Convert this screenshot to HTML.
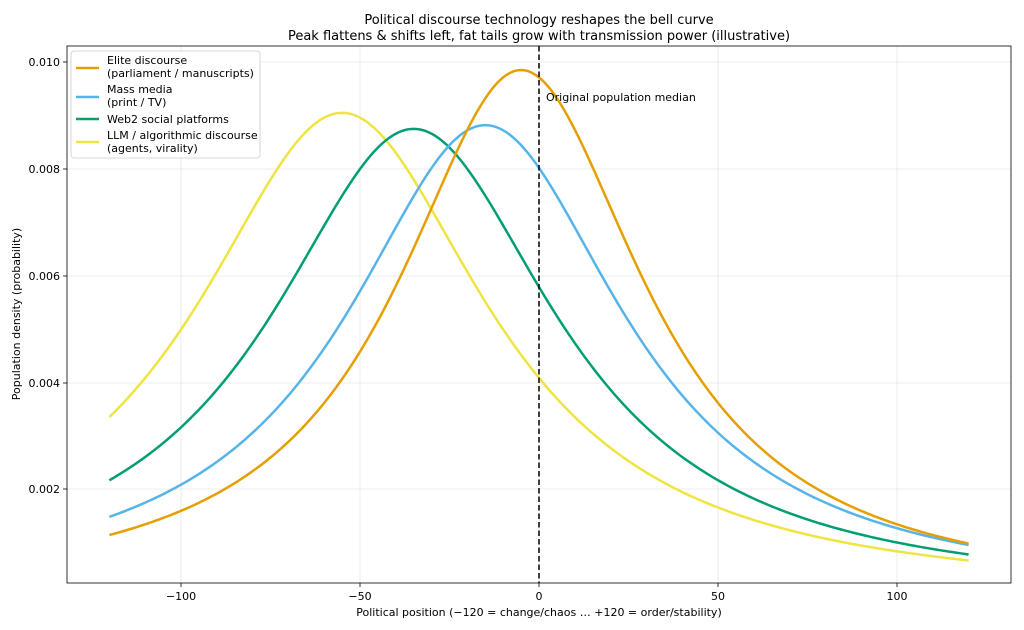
<!DOCTYPE html>
<html><head><meta charset="utf-8"><style>
body{margin:0;background:#fff}
svg{display:block;font-family:"DejaVu Sans","Liberation Sans",sans-serif}
</style></head><body>
<svg id="s" width="1024" height="630" viewBox="0 0 1024 630">
<rect width="1024" height="630" fill="#fff"/>
<g stroke="#e6e6e6" stroke-width="0.8">
<line x1="181" y1="46" x2="181" y2="583"/><line x1="360" y1="46" x2="360" y2="583"/><line x1="539" y1="46" x2="539" y2="583"/><line x1="718" y1="46" x2="718" y2="583"/><line x1="897" y1="46" x2="897" y2="583"/>
<line x1="67" y1="62" x2="1011" y2="62"/><line x1="67" y1="169" x2="1011" y2="169"/><line x1="67" y1="276" x2="1011" y2="276"/><line x1="67" y1="383" x2="1011" y2="383"/><line x1="67" y1="489" x2="1011" y2="489"/>
</g>
<g id="curves" fill="none" stroke-width="2.5"></g>
<line x1="539" y1="46" x2="539" y2="583" stroke="#000" stroke-width="1.5" stroke-dasharray="5.5,3"/>
<text x="546" y="101" font-size="11">Original population median</text>
<rect x="67" y="46" width="944" height="537" fill="none" stroke="#000" stroke-width="0.8"/>
<g stroke="#000" stroke-width="0.8">
<line x1="181" y1="583" x2="181" y2="587"/><line x1="360" y1="583" x2="360" y2="587"/><line x1="539" y1="583" x2="539" y2="587"/><line x1="718" y1="583" x2="718" y2="587"/><line x1="897" y1="583" x2="897" y2="587"/>
<line x1="63" y1="62" x2="67" y2="62"/><line x1="63" y1="169" x2="67" y2="169"/><line x1="63" y1="276" x2="67" y2="276"/><line x1="63" y1="383" x2="67" y2="383"/><line x1="63" y1="489" x2="67" y2="489"/>
</g>
<g font-size="11" text-anchor="middle">
<text x="181" y="600">−100</text><text x="360" y="600">−50</text><text x="539" y="600">0</text><text x="718" y="600">50</text><text x="897" y="600">100</text>
<text x="539" y="616">Political position (−120 = change/chaos … +120 = order/stability)</text>
</g>
<g font-size="11" text-anchor="end">
<text x="60" y="66">0.010</text><text x="60" y="173">0.008</text><text x="60" y="280">0.006</text><text x="60" y="387">0.004</text><text x="60" y="493">0.002</text>
</g>
<text transform="translate(20,314) rotate(-90)" font-size="11" text-anchor="middle">Population density (probability)</text>
<text x="539" y="24" font-size="13" text-anchor="middle">Political discourse technology reshapes the bell curve</text>
<text x="539" y="40" font-size="13" text-anchor="middle">Peak flattens &amp; shifts left, fat tails grow with transmission power (illustrative)</text>
<rect x="71" y="51" width="189" height="107" rx="3" fill="#fff" fill-opacity="0.85" stroke="#ccc" stroke-width="0.8"/>
<g stroke-width="2.5">
<line x1="76" y1="68" x2="99" y2="68" stroke="#E69F00"/>
<line x1="76" y1="97" x2="99" y2="97" stroke="#56B4E9"/>
<line x1="76" y1="119" x2="99" y2="119" stroke="#009E73"/>
<line x1="76" y1="142" x2="99" y2="142" stroke="#F0E442"/>
</g>
<g font-size="11">
<text x="107" y="64">Elite discourse</text><text x="107" y="77">(parliament / manuscripts)</text>
<text x="107" y="93">Mass media</text><text x="107" y="106">(print / TV)</text>
<text x="107" y="123">Web2 social platforms</text>
<text x="107" y="139">LLM / algorithmic discourse</text><text x="107" y="152">(agents, virality)</text>
</g>
</svg>
<script>
var specs=[["#F0E442",-55,50,0.00905],["#009E73",-35,49,0.00875],["#56B4E9",-15,47.5,0.00882],["#E69F00",-5,42,0.00985]];
var g=document.getElementById("curves");
specs.forEach(function(s){
 var d="";
 for(var x=-120;x<=120.001;x+=1){
  var z=(x-s[1])/s[2];var v=s[3]/(1+z*z);
  var px=539+x*3.58, py=62+(0.010-v)*53500;
  d+=(d?"L":"M")+px.toFixed(2)+","+py.toFixed(2);
 }
 var p=document.createElementNS("http://www.w3.org/2000/svg","path");
 p.setAttribute("d",d);p.setAttribute("stroke",s[0]);g.appendChild(p);
});
</script>
</body></html>
